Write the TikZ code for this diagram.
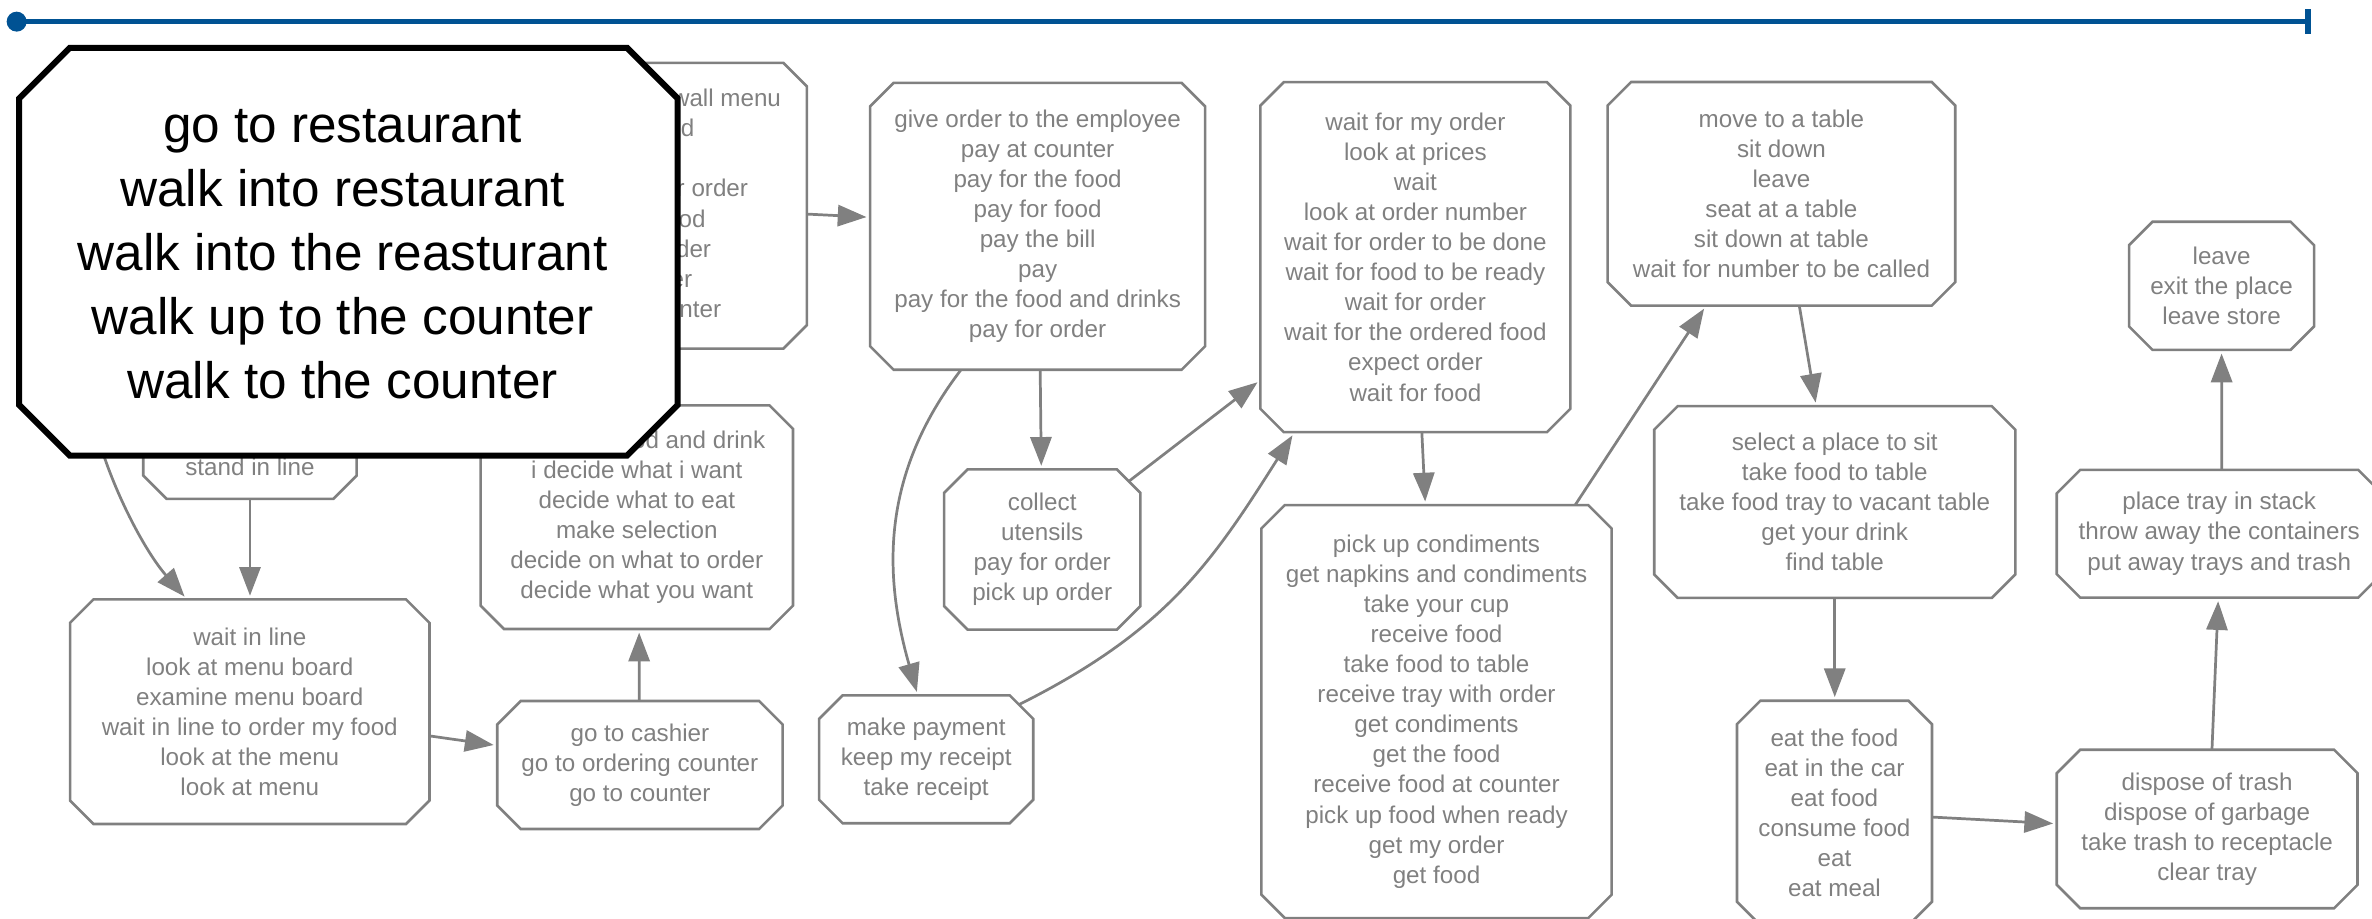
\documentclass[tikz,border=0pt]{standalone}
\usepackage{fontspec}
\setmainfont{Liberation Sans}
\usetikzlibrary{arrows.meta,calc}

\definecolor{edgegray}{RGB}{128,128,128}
\definecolor{sliderblue}{RGB}{0,82,147}

\newcommand\evtfont{\fontsize{8}{9.93}\selectfont}
\newcommand\bigfont{\fontsize{16.95}{21.15}\selectfont}

% octagonal outline around an existing node: #2 = node name, #3 = corner cut
\newcommand\chamferbox[3][]{%
  \draw[#1] ([xshift=#3]#2.north west) -- ([xshift=-#3]#2.north east)
    -- ([yshift=-#3]#2.north east) -- ([yshift=#3]#2.south east)
    -- ([xshift=-#3]#2.south east) -- ([xshift=#3]#2.south west)
    -- ([yshift=#3]#2.south west) -- ([yshift=-#3]#2.north west) -- cycle;}

\tikzset{
  evt/.style={rectangle, inner sep=0pt, align=center, text=edgegray, font=\evtfont},
  evtline/.style={draw=edgegray, line width=0.85pt},
  flow/.style={draw=edgegray, line width=0.9pt,
    -{Triangle[length=9.5pt,width=7pt]}, shorten >=1.2pt},
  bigline/.style={draw=black, line width=2pt, fill=white},
}

\begin{document}
\begin{tikzpicture}[x=0.5pt, y=-0.5pt]
\useasboundingbox (0,0) rectangle (1568,607);

% timeline slider
\coordinate (sliderstart) at (11,14.3);
\coordinate (sliderend) at (1525.7,14.3);
\draw[sliderblue, line width=1.75pt] (sliderstart) -- (sliderend);
\fill[sliderblue] (sliderstart) circle[radius=3.3pt];
\draw[sliderblue, line width=1.9pt] ($(sliderend)+(0,-8.3)$) -- ($(sliderend)+(0,8.4)$);

% event clusters (parts lying under the enlarged cluster are kept as phantoms)
\node[evt, minimum width=103pt, minimum height=94pt] (order) at (430,136)
  {\phantom{look up at the }wall menu\\\phantom{get }food\\\phantom{order}\\\phantom{choose }your order\\\phantom{order }food\\\phantom{place }order\\\phantom{to }order\\\phantom{go to }counter};
\node[evt, minimum width=70.15pt, minimum height=40.9pt] (line) at (165.25,288.5)
  {\phantom{get in line}\\\phantom{line up}\\stand in line};
\node[evt, minimum width=118.4pt, minimum height=73.85pt] (wait) at (165.1,470.45)
  {wait in line\\look at menu board\\examine menu board\\wait in line to order my food\\look at the menu\\look at menu};
\node[evt, minimum width=93.9pt, minimum height=41.9pt] (cashier) at (423,505.7)
  {go to cashier\\go to ordering counter\\go to counter};
\node[evt, minimum width=102.85pt, minimum height=73.5pt] (decide) at (420.95,341.9)
  {\phantom{pick your }food and drink\\i decide what i want\\decide what to eat\\make selection\\decide on what to order\\decide what you want};
\node[evt, minimum width=110.3pt, minimum height=94.4pt] (pay) at (685.9,149.6)
  {give order to the employee\\pay at counter\\pay for the food\\pay for food\\pay the bill\\pay\\pay for the food and drinks\\pay for order};
\node[evt, minimum width=64.45pt, minimum height=52.55pt] (collect) at (688.95,363.25)
  {collect\\utensils\\pay for order\\pick up order};
\node[evt, minimum width=70.35pt, minimum height=41.85pt] (receipt) at (612.25,501.95)
  {make payment\\keep my receipt\\take receipt};
\node[evt, minimum width=102.05pt, minimum height=115.3pt] (waitorder) at (935.65,170)
  {wait for my order\\look at prices\\wait\\look at order number\\wait for order to be done\\wait for food to be ready\\wait for order\\wait for the ordered food\\expect order\\wait for food};
\node[evt, minimum width=115.4pt, minimum height=136.1pt] (pickup) at (949.6,470.4)
  {pick up condiments\\get napkins and condiments\\take your cup\\receive food\\take food to table\\receive tray with order\\get condiments\\get the food\\receive food at counter\\pick up food when ready\\get my order\\get food};
\node[evt, minimum width=114.5pt, minimum height=73.5pt] (table) at (1177.6,128.1)
  {move to a table\\sit down\\leave\\seat at a table\\sit down at table\\wait for number to be called};
\node[evt, minimum width=118.95pt, minimum height=62.95pt] (seat) at (1212.85,331.85)
  {select a place to sit\\take food to table\\take food tray to vacant table\\get your drink\\find table};
\node[evt, minimum width=64.05pt, minimum height=73.8pt] (eat) at (1212.65,537.4)
  {eat the food\\eat in the car\\eat food\\consume food\\eat\\eat meal};
\node[evt, minimum width=99pt, minimum height=52pt] (trash) at (1459,548)
  {dispose of trash\\dispose of garbage\\take trash to receptacle\\clear tray};
\node[evt, minimum width=107pt, minimum height=41.8pt] (tray) at (1467,352.8)
  {place tray in stack\\throw away the containers\\put away trays and trash};
\node[evt, minimum width=60.75pt, minimum height=41.95pt] (leave) at (1468.55,188.95)
  {leave\\exit the place\\leave store};

\foreach \n in {order,line,wait,cashier,decide,pay,collect,receipt,waitorder,
                pickup,table,seat,eat,trash,tray,leave}
  {\chamferbox[evtline]{\n}{7.75pt}}

% transitions
\coordinate (entry) at (58,255);
\draw[flow] (entry) .. controls (62,300) and (92,360) .. ($(wait.north)+(-41.5,0)$);
\draw[flow] (line.south) -- (line.south |- wait.north);
\draw[flow] ($(wait.east)+(0,16)$) -- ($(cashier.west)+(0,-12.9)$);
\draw[flow] ($(cashier.north)+(-0.5,0)$) -- ($(decide.south)+(1.55,0)$);
\draw[flow] ($(order.east)+(0,5.5)$) -- ($(pay.west)+(0,-6)$);
\draw[flow] ($(pay.south)+(1.7,0)$) -- ($(collect.north)+(-0.6,0)$);
\draw[flow] ($(pay.south)+(-50.6,0)$) .. controls (582,314) and (584,380) .. ($(receipt.north)+(-5.5,0)$);
\draw[flow] ($(collect.north east)+(-7.4,7.7)$) -- ($(waitorder.west)+(0,81.2)$);
\draw[flow] ($(receipt.north east)+(-9.1,5.9)$) .. controls (771,417) and (801,372) .. ($(waitorder.south west)+(22.5,0)$);
\draw[flow] ($(waitorder.south)+(4.25,0)$) -- ($(pickup.north)+(-7.4,0)$);
\draw[flow] ($(pickup.north east)+(-24.2,0)$) -- ($(table.south)+(-49.8,0)$);
\draw[flow] ($(table.south)+(11.8,0)$) -- ($(seat.north)+(-12.25,0)$);
\draw[flow] (seat.south) -- (seat.south |- eat.north);
\draw[flow] ($(eat.east)+(0,2.7)$) -- ($(trash.west)+(0,-3.5)$);
\draw[flow] ($(trash.north)+(3.2,0)$) -- ($(tray.south)+(-0.6,0)$);
\draw[flow] ($(tray.north)+(1.7,0)$) -- (leave.south);

% enlarged cluster in front
\node[rectangle, inner sep=0pt, minimum width=217.25pt, minimum height=134.4pt] (bigframe) at (230.35,166.4) {};
\chamferbox[bigline]{bigframe}{16.75pt}
\node[inner sep=0pt, align=center, font=\bigfont, text=black] (bigtext) at (226.5,168.3)
  {go to restaurant\\walk into restaurant\\walk into the reasturant\\walk up to the counter\\walk to the counter};
\end{tikzpicture}
\end{document}
